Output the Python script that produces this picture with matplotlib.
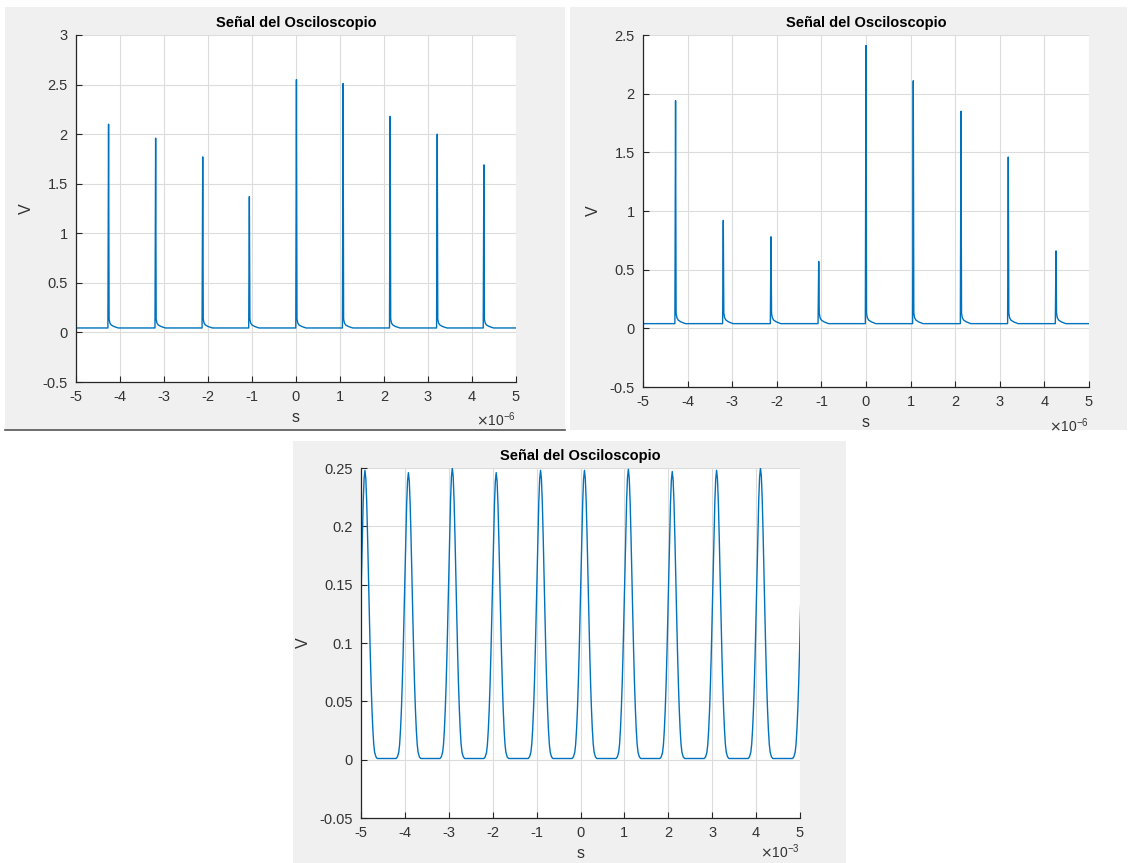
import numpy as np
import matplotlib
matplotlib.use("Agg")
import matplotlib.pyplot as plt
from matplotlib.patches import Rectangle
from matplotlib.ticker import FuncFormatter

plt.rcParams['font.family'] = ['Liberation Sans', 'DejaVu Sans']
plt.rcParams['axes.unicode_minus'] = False

# --- data read off the three oscilloscope captures ---
# panel 1: spikes (time in units of 1e-6 s, peak in V)
spike_t1 = [-4.26, -3.19, -2.12, -1.06, 0.01, 1.07, 2.14, 3.21, 4.27]
spike_v1 = [2.10, 1.96, 1.77, 1.37, 2.55, 2.51, 2.18, 2.00, 1.69]
base1 = 0.045

# panel 2: spikes
spike_t2 = [-4.27, -3.20, -2.13, -1.06, 0.00, 1.06, 2.13, 3.19, 4.26]
spike_v2 = [1.94, 0.92, 0.78, 0.57, 2.41, 2.11, 1.85, 1.46, 0.66]
base2 = 0.04

# spike shape: time offsets (1e-6 s) and tail height above baseline (V)
spike_dt = [-0.015, 0.0, 0.012, 0.03, 0.06, 0.12, 0.22]
spike_tail = [0.0, None, 0.09, 0.05, 0.03, 0.015, 0.0]

# panel 3: smooth pulses (time in units of 1e-3 s, peak in V)
pulse_t3 = [-4.91, -3.92, -2.92, -1.92, -0.91, 0.09, 1.09, 2.09, 3.10, 4.10, 5.11]
pulse_v3 = [0.248, 0.246, 0.250, 0.246, 0.248, 0.248, 0.249, 0.247, 0.248, 0.250, 0.248]
base3 = 0.001

# pulse shape (one side): time offset (1e-3 s) and fraction of peak
pulse_half_dt = [0.0, 0.02, 0.04, 0.06, 0.08, 0.10, 0.12, 0.14, 0.16, 0.18, 0.20, 0.22, 0.25, 0.28]
pulse_half_f = [1.0, 0.97, 0.89, 0.77, 0.63, 0.50, 0.37, 0.26, 0.17, 0.10, 0.05, 0.022, 0.006, 0.0]

LINE = '#0072BD'
AXC = '#262626'
GRID = '#dcdcdc'
BG = '#f0f0f0'


def spike_trace(times, peaks, base):
    xs, ys = [-5.0], [base]
    for t, p in zip(times, peaks):
        for dt, tail in zip(spike_dt, spike_tail):
            xs.append(t + dt)
            ys.append(p if tail is None else base + tail)
    xs.append(5.0)
    ys.append(base)
    return xs, ys


def pulse_trace(times, peaks, base):
    dts = [-d for d in pulse_half_dt[::-1]] + pulse_half_dt[1:]
    fs = pulse_half_f[::-1] + pulse_half_f[1:]
    xs, ys = [], []
    for t, p in zip(times, peaks):
        for dt, f in zip(dts, fs):
            xs.append(t + dt)
            ys.append(base + f * (p - base))
    return xs, ys


fig = plt.figure(figsize=(11.29, 8.63), dpi=100)
W, H = 1129.0, 863.0


def px_rect(x0, y0, x1, y1):
    return [x0 / W, 1 - y1 / H, (x1 - x0) / W, (y1 - y0) / H]


# grey window backgrounds
for (x0, y0, x1, y1) in [(5, 7, 565, 430), (570, 7, 1127, 430), (293, 441, 846, 863)]:
    l, b, w, h = px_rect(x0, y0, x1, y1)
    fig.patches.append(Rectangle((l, b), w, h, transform=fig.transFigure,
                                 facecolor=BG, edgecolor='none', zorder=-10))
fig.add_artist(plt.Line2D([5 / W, 565 / W], [1 - 430 / H] * 2, color='#555555', lw=1.2))


def style(ax, ylim, yticks, expo, offy):
    ax.set_xlim(-5, 5)
    ax.set_ylim(*ylim)
    ax.set_xticks(range(-5, 6))
    ax.set_yticks(yticks)
    ax.yaxis.set_major_formatter(FuncFormatter(lambda v, _: '%g' % round(v, 4)))
    ax.xaxis.set_major_formatter(FuncFormatter(lambda v, _: '%g' % v))
    ax.grid(True, color=GRID, lw=0.8)
    ax.set_axisbelow(True)
    for s in ['top', 'right']:
        ax.spines[s].set_visible(False)
    for s in ['left', 'bottom']:
        ax.spines[s].set_color(AXC)
        ax.spines[s].set_linewidth(0.9)
    ax.tick_params(direction='in', length=4, width=0.8, color=AXC,
                   labelcolor='#333333', labelsize=10.5, pad=6)
    ax.set_title('Señal del Osciloscopio', fontsize=10.5, fontweight='bold', pad=6)
    ax.set_xlabel('s', fontsize=11.5, color='#333333', labelpad=4)
    ax.set_ylabel('V', fontsize=11.5, color='#333333', labelpad=6)
    ax.text(1.0, offy, r'$\times\mathregular{10^{%d}}$' % expo, transform=ax.transAxes,
            ha='right', va='center', fontsize=10, color='#333333')


ax1 = fig.add_axes(px_rect(76, 35, 516, 382))
x, y = spike_trace(spike_t1, spike_v1, base1)
ax1.plot(x, y, color=LINE, lw=1.0)
style(ax1, (-0.5, 3), np.arange(-0.5, 3.01, 0.5), -6, -0.11)

ax2 = fig.add_axes(px_rect(643, 35, 1089, 387))
x, y = spike_trace(spike_t2, spike_v2, base2)
ax2.plot(x, y, color=LINE, lw=1.0)
style(ax2, (-0.5, 2.5), np.arange(-0.5, 2.51, 0.5), -6, -0.11)

ax3 = fig.add_axes(px_rect(361, 468, 800, 818))
x, y = pulse_trace(pulse_t3, pulse_v3, base3)
ax3.plot(x, y, color=LINE, lw=1.0)
style(ax3, (-0.05, 0.25), np.arange(-0.05, 0.251, 0.05), -3, -0.095)

fig.savefig('out.png', dpi=100, facecolor='white')
